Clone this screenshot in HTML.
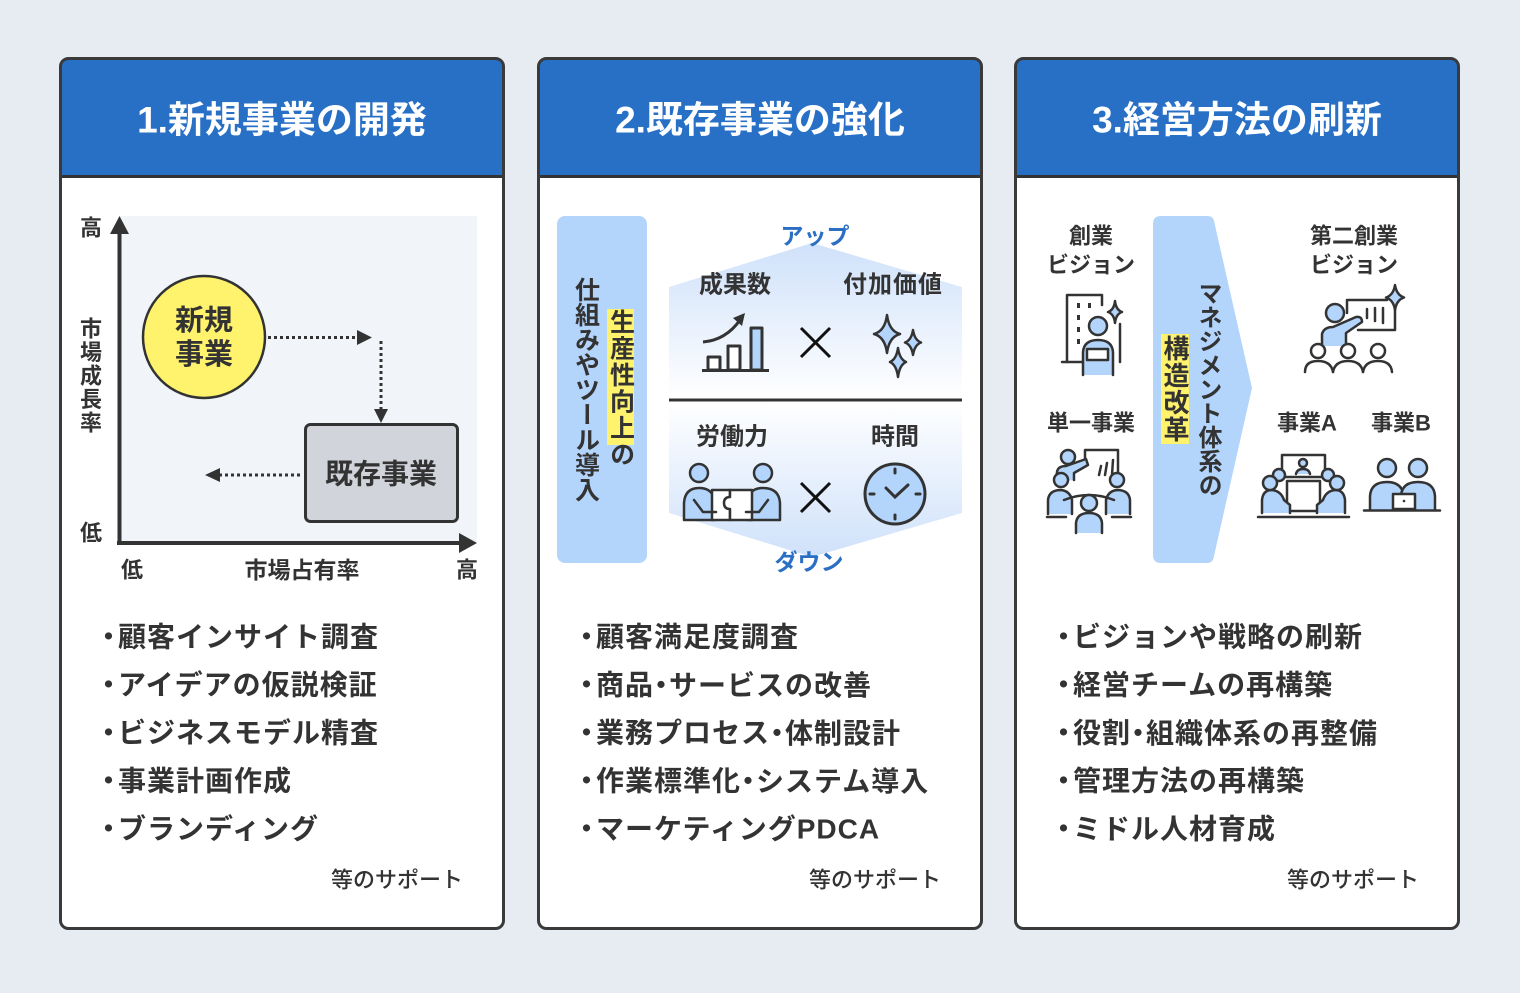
<!DOCTYPE html>
<html><head><meta charset="utf-8">
<style>
html,body{margin:0;padding:0;}
body{width:1520px;height:993px;background:#e7ecf3;position:relative;overflow:hidden;font-family:"Liberation Sans","Noto Sans CJK JP",sans-serif;}
svg{position:absolute;left:0;top:0;}
svg text{font-family:"Liberation Sans","Noto Sans CJK JP",sans-serif;font-weight:bold;fill:#333;dominant-baseline:central;}
.li{font-size:28px;letter-spacing:1px;}
.v{position:absolute;writing-mode:vertical-rl;font-family:"Liberation Sans","Noto Sans CJK JP",sans-serif;font-weight:bold;color:#333;white-space:nowrap;}
</style></head>
<body>
<svg width="1520" height="993" viewBox="0 0 1520 993">
<defs>
<linearGradient id="gu" x1="0" y1="0" x2="0" y2="1"><stop offset="0" stop-color="#cfe1fa"/><stop offset="1" stop-color="#ffffff"/></linearGradient>
<linearGradient id="gd" x1="0" y1="0" x2="0" y2="1"><stop offset="0" stop-color="#ffffff"/><stop offset="1" stop-color="#cfe1fa"/></linearGradient>
</defs>

<!-- Panels -->
<g>
<rect x="60.5" y="58.5" width="443" height="870" rx="8" fill="#fff"/>
<path d="M60.5 176 V66.5 Q60.5 58.5 68.5 58.5 H495.5 Q503.5 58.5 503.5 66.5 V176 Z" fill="#2870c6"/>
<line x1="60" y1="176.5" x2="504" y2="176.5" stroke="#333" stroke-width="3"/>
<rect x="60.5" y="58.5" width="443" height="870" rx="8" fill="none" stroke="#3a3a3a" stroke-width="3"/>

<rect x="538.5" y="58.5" width="443" height="870" rx="8" fill="#fff"/>
<path d="M538.5 176 V66.5 Q538.5 58.5 546.5 58.5 H973.5 Q981.5 58.5 981.5 66.5 V176 Z" fill="#2870c6"/>
<line x1="538" y1="176.5" x2="982" y2="176.5" stroke="#333" stroke-width="3"/>
<rect x="538.5" y="58.5" width="443" height="870" rx="8" fill="none" stroke="#3a3a3a" stroke-width="3"/>

<rect x="1015.5" y="58.5" width="443" height="870" rx="8" fill="#fff"/>
<path d="M1015.5 176 V66.5 Q1015.5 58.5 1023.5 58.5 H1450.5 Q1458.5 58.5 1458.5 66.5 V176 Z" fill="#2870c6"/>
<line x1="1015" y1="176.5" x2="1459" y2="176.5" stroke="#333" stroke-width="3"/>
<rect x="1015.5" y="58.5" width="443" height="870" rx="8" fill="none" stroke="#3a3a3a" stroke-width="3"/>
</g>

<!-- Headers -->
<text x="282" y="120" text-anchor="middle" style="fill:#fff;font-size:37px">1.新規事業の開発</text>
<text x="760" y="120" text-anchor="middle" style="fill:#fff;font-size:37px">2.既存事業の強化</text>
<text x="1237" y="120" text-anchor="middle" style="fill:#fff;font-size:37px">3.経営方法の刷新</text>

<!-- ===== Panel 1 chart ===== -->
<rect x="119" y="216" width="358" height="327" fill="#f1f5f9"/>
<line x1="119.5" y1="230" x2="119.5" y2="545" stroke="#333" stroke-width="4"/>
<polygon points="110,234 119.5,216 129,234" fill="#333"/>
<line x1="117" y1="543" x2="462" y2="543" stroke="#333" stroke-width="4"/>
<polygon points="459,533 477,543 459,553" fill="#333"/>

<circle cx="204" cy="337" r="61" fill="#fff36e" stroke="#333" stroke-width="2.5"/>
<text x="204" y="321" text-anchor="middle" style="font-size:29px">新規</text>
<text x="204" y="355" text-anchor="middle" style="font-size:29px">事業</text>

<line x1="268" y1="337.5" x2="358" y2="337.5" stroke="#333" stroke-width="3" stroke-dasharray="3 3"/>
<polygon points="357,330 372,337.5 357,345" fill="#333"/>
<line x1="381" y1="341" x2="381" y2="410" stroke="#333" stroke-width="3" stroke-dasharray="3 3"/>
<polygon points="374,409 381,423 388,409" fill="#333"/>

<rect x="305.5" y="424.5" width="152" height="97" rx="5" fill="#d1d5db" stroke="#333" stroke-width="3"/>
<text x="381" y="474" text-anchor="middle" style="font-size:28px">既存事業</text>

<line x1="300" y1="475" x2="219" y2="475" stroke="#333" stroke-width="3" stroke-dasharray="3 3"/>
<polygon points="220,468 205,475 220,482" fill="#333"/>

<g>
<text x="91" y="228" text-anchor="middle" style="font-size:22px">高</text>
<text x="91" y="329" text-anchor="middle" style="font-size:22px">市</text>
<text x="91" y="352.5" text-anchor="middle" style="font-size:22px">場</text>
<text x="91" y="376" text-anchor="middle" style="font-size:22px">成</text>
<text x="91" y="399.5" text-anchor="middle" style="font-size:22px">長</text>
<text x="91" y="423" text-anchor="middle" style="font-size:22px">率</text>
<text x="91" y="533" text-anchor="middle" style="font-size:22px">低</text>
<text x="132" y="570" text-anchor="middle" style="font-size:22px">低</text>
<text x="302" y="570" text-anchor="middle" style="font-size:23px">市場占有率</text>
<text x="467" y="570" text-anchor="middle" style="font-size:22px">高</text>
</g>

<!-- ===== Panel 2 diagram ===== -->
<rect x="557" y="216" width="90" height="347" rx="8" fill="#b3d4fb"/>
<rect x="607" y="309" width="27" height="136" fill="#fff36e"/>

<polygon points="669,287 812,243 962,287 962,399 669,399" fill="url(#gu)"/>
<polygon points="669,401 962,401 962,513 812,557 669,513" fill="url(#gd)"/>
<line x1="669" y1="400" x2="962" y2="400" stroke="#333" stroke-width="3"/>

<text x="815" y="236" text-anchor="middle" style="font-size:23px;fill:#2a6fc4">アップ</text>
<text x="809" y="562" text-anchor="middle" style="font-size:23px;fill:#2a6fc4">ダウン</text>
<text x="735" y="285" text-anchor="middle" style="font-size:24px">成果数</text>
<text x="893" y="285" text-anchor="middle" style="font-size:24px;letter-spacing:1px">付加価値</text>
<text x="732" y="437" text-anchor="middle" style="font-size:24px">労働力</text>
<text x="895" y="437" text-anchor="middle" style="font-size:24px">時間</text>

<!-- bar chart icon -->
<g stroke="#333" stroke-width="3" fill="#fff" stroke-linejoin="round">
<rect x="708" y="357" width="12" height="13"/>
<rect x="728" y="346" width="12" height="24"/>
<rect x="751" y="328" width="11" height="42" fill="#b3d4fb"/>
<line x1="702" y1="370.5" x2="769" y2="370.5"/>
<path d="M703 342 Q726 340 740 320" fill="none"/>
</g>
<polygon points="733,318 745,313 742,326" fill="#333"/>

<!-- x marks -->
<g stroke="#111" stroke-width="3">
<line x1="801" y1="328" x2="830" y2="357"/><line x1="830" y1="328" x2="801" y2="357"/>
<line x1="801" y1="483" x2="830" y2="512"/><line x1="830" y1="483" x2="801" y2="512"/>
</g>

<!-- sparkles -->
<g fill="#b3d4fb" stroke="#333" stroke-width="2.5" stroke-linejoin="round">
<path d="M887 315 Q889 331 900 334 Q889 337 887 353 Q885 337 874 334 Q885 331 887 315 Z"/>
<path d="M913 330 Q914.5 340 921 342.5 Q914.5 345 913 355 Q911.5 345 905 342.5 Q911.5 340 913 330 Z"/>
<path d="M898 348 Q899.5 359 906 362 Q899.5 365 898 377 Q896.5 365 890 362 Q896.5 359 898 348 Z"/>
</g>

<!-- people with puzzle -->
<g stroke="#333" stroke-width="2.5" stroke-linejoin="round" stroke-linecap="round">
<path d="M684 520 L684 503 Q685 488 699 488 Q711 488 714 498 L714 520 Z" fill="#b3d4fb"/>
<path d="M780 520 L780 503 Q779 488 763 488 Q751 488 748 498 L748 520 Z" fill="#b3d4fb"/>
<circle cx="699" cy="473" r="9" fill="#b3d4fb"/>
<circle cx="763" cy="473" r="9" fill="#b3d4fb"/>
<path d="M712 490 H730 V497 Q736 497 736 503 Q736 509 730 509 V520 H712 Z" fill="#fff"/>
<path d="M730 490 H752 V520 H730 V509 Q724 509 724 503 Q724 497 730 497 Z" fill="#fff"/>
<path d="M694 500 L703 512 L716 512" fill="none"/>
<path d="M768 500 L759 512 L746 512" fill="none"/>
</g>

<!-- clock -->
<g stroke="#333" stroke-width="3" stroke-linecap="round">
<circle cx="895" cy="494" r="30" fill="#b3d4fb"/>
<line x1="895" y1="469" x2="895" y2="473"/>
<line x1="895" y1="515" x2="895" y2="519"/>
<line x1="870" y1="494" x2="874" y2="494"/>
<line x1="916" y1="494" x2="920" y2="494"/>
<path d="M886 488 L895 497 L908 485" fill="none"/>
</g>

<!-- ===== Panel 3 diagram ===== -->
<path d="M1161 216 L1208 216 Q1213 216 1214 221 L1252 388 L1214 556 Q1213 563 1207 563 L1161 563 Q1153 563 1153 555 L1153 224 Q1153 216 1161 216 Z" fill="#b3d4fb"/>
<rect x="1161" y="334" width="28" height="110" fill="#fff36e"/>

<text x="1091" y="236" text-anchor="middle" style="font-size:22px">創業</text>
<text x="1091" y="265" text-anchor="middle" style="font-size:22px">ビジョン</text>
<text x="1091" y="423" text-anchor="middle" style="font-size:22px">単一事業</text>
<text x="1354" y="236" text-anchor="middle" style="font-size:22px">第二創業</text>
<text x="1354" y="265" text-anchor="middle" style="font-size:22px">ビジョン</text>
<text x="1307" y="423" text-anchor="middle" style="font-size:22px">事業A</text>
<text x="1401" y="423" text-anchor="middle" style="font-size:22px">事業B</text>

<!-- icon 1: 創業ビジョン -->
<g stroke="#333" stroke-width="2.5" stroke-linejoin="round" stroke-linecap="round" fill="none">
<path d="M1067 362 L1067 295 L1102 295 L1102 305"/>
<line x1="1062" y1="362" x2="1084" y2="362"/>
<line x1="1120" y1="324" x2="1120" y2="362"/>
<path d="M1083 375 L1083 352 Q1084 340 1098 340 Q1112 340 1113 352 L1113 375" fill="#b3d4fb"/>
<circle cx="1098" cy="326" r="9" fill="#b3d4fb"/>
<rect x="1087" y="349" width="21" height="11" fill="#fff"/>
<path d="M1115 301 Q1116 310 1122 312 Q1116 314 1115 323 Q1114 314 1108 312 Q1114 310 1115 301 Z" fill="#b3d4fb"/>
</g>
<g fill="#333">
<rect x="1077" y="303" width="3" height="5"/><rect x="1088" y="303" width="3" height="5"/>
<rect x="1077" y="315" width="3" height="5"/><rect x="1077" y="327" width="3" height="5"/>
<rect x="1077" y="339" width="3" height="5"/>
</g>

<!-- icon 2: 単一事業 -->
<g stroke="#333" stroke-width="2.5" stroke-linejoin="round" stroke-linecap="round" fill="none">
<path d="M1085 458 L1085 450 L1118 450 L1118 476"/>
<line x1="1101" y1="466" x2="1099" y2="475"/>
<line x1="1107" y1="463" x2="1105" y2="475"/>
<line x1="1113" y1="460" x2="1112" y2="475"/>
<path d="M1056 482 L1057 472 Q1058 466 1066 466 L1086 459 L1088 465 L1074 473 L1074 480" fill="#b3d4fb"/>
<circle cx="1068" cy="457" r="7" fill="#b3d4fb"/>
<path d="M1048 514 L1048 500 Q1049 490 1061 490 Q1070 491 1072 500 L1072 514" fill="#b3d4fb"/>
<path d="M1130 514 L1130 500 Q1129 490 1117 490 Q1108 491 1106 500 L1106 514" fill="#b3d4fb"/>
<circle cx="1061" cy="480" r="7" fill="#b3d4fb"/>
<circle cx="1117" cy="480" r="7" fill="#b3d4fb"/>
<path d="M1064 500 Q1089 490 1114 500"/>
<path d="M1076 533 L1076 523 Q1077 513 1089 513 Q1101 513 1102 523 L1102 533" fill="#b3d4fb"/>
<circle cx="1089" cy="503" r="8" fill="#b3d4fb"/>
<line x1="1047" y1="517" x2="1066" y2="517"/>
<line x1="1112" y1="517" x2="1131" y2="517"/>
</g>

<!-- icon 3: 第二創業 -->
<g stroke="#333" stroke-width="2.5" stroke-linejoin="round" stroke-linecap="round" fill="none">
<path d="M1347 313 L1347 300 L1387 300"/>
<path d="M1395 307 L1395 330 L1358 330"/>
<line x1="1367" y1="309" x2="1367" y2="318"/>
<line x1="1375" y1="308" x2="1375" y2="321"/>
<line x1="1383" y1="308" x2="1383" y2="323"/>
<path d="M1395 285 Q1396.5 295 1404 297.5 Q1396.5 300 1395 310 Q1393.5 300 1386 297.5 Q1393.5 295 1395 285 Z" fill="#b3d4fb"/>
<path d="M1322 346 L1322 334 Q1324 327 1333 327 L1356 317 Q1362 316 1362 322 L1346 333 L1346 346" fill="#b3d4fb"/>
<circle cx="1335" cy="313" r="9" fill="#b3d4fb"/>
<circle cx="1318" cy="351" r="7" fill="#fff"/>
<circle cx="1348" cy="351" r="7" fill="#fff"/>
<circle cx="1378" cy="351" r="7" fill="#fff"/>
<path d="M1305 372 Q1305 361 1318 361 Q1331 361 1333 372"/>
<path d="M1333 372 Q1335 361 1348 361 Q1361 361 1363 372"/>
<path d="M1363 372 Q1365 361 1378 361 Q1391 361 1392 372"/>
</g>

<!-- icon 4: 事業A -->
<g stroke="#333" stroke-width="2.5" stroke-linejoin="round" stroke-linecap="round" fill="none">
<rect x="1282" y="455" width="43" height="22" fill="#fff"/>
<circle cx="1303" cy="463" r="4" fill="#b3d4fb"/>
<path d="M1296 474 Q1297 469 1303 469 Q1309 469 1310 474" fill="#b3d4fb"/>
<rect x="1287" y="481" width="33" height="30" fill="#fff"/>
<path d="M1262 513 L1262 500 Q1263 490 1272 490 Q1281 491 1284 500 L1290 505 L1290 513" fill="#b3d4fb"/>
<path d="M1345 513 L1345 500 Q1344 490 1335 490 Q1326 491 1323 500 L1317 505 L1317 513" fill="#b3d4fb"/>
<circle cx="1279" cy="475" r="6" fill="#b3d4fb"/>
<circle cx="1328" cy="475" r="6" fill="#b3d4fb"/>
<circle cx="1270" cy="483" r="7" fill="#b3d4fb"/>
<circle cx="1337" cy="483" r="7" fill="#b3d4fb"/>
<line x1="1258" y1="517" x2="1349" y2="517"/>
</g>

<!-- icon 5: 事業B -->
<g stroke="#333" stroke-width="2.5" stroke-linejoin="round" stroke-linecap="round" fill="none">
<path d="M1370 510 L1370 496 Q1371 482 1387 482 Q1402 482 1404 496 L1404 510" fill="#b3d4fb"/>
<path d="M1401 510 L1401 496 Q1402 482 1418 482 Q1434 482 1435 496 L1435 510" fill="#b3d4fb"/>
<circle cx="1387" cy="468" r="9" fill="#b3d4fb"/>
<circle cx="1418" cy="468" r="9" fill="#b3d4fb"/>
<rect x="1393" y="494" width="22" height="15" fill="#fff"/>
<line x1="1364" y1="510.5" x2="1440" y2="510.5"/>
</g>
<circle cx="1404" cy="501" r="1.3" fill="#333"/>

<!-- ===== Lists ===== -->
<g>
<text x="109" y="637" text-anchor="middle" class="li">・</text>
<text x="118" y="637" class="li">顧客インサイト調査</text>
<text x="109" y="685" text-anchor="middle" class="li">・</text>
<text x="118" y="685" class="li">アイデアの仮説検証</text>
<text x="109" y="733" text-anchor="middle" class="li">・</text>
<text x="118" y="733" class="li">ビジネスモデル精査</text>
<text x="109" y="781" text-anchor="middle" class="li">・</text>
<text x="118" y="781" class="li">事業計画作成</text>
<text x="109" y="829" text-anchor="middle" class="li">・</text>
<text x="118" y="829" class="li">ブランディング</text>

<text x="587" y="637" text-anchor="middle" class="li">・</text>
<text x="596" y="637" class="li">顧客満足度調査</text>
<text x="587" y="685" text-anchor="middle" class="li">・</text>
<text x="596" y="685" class="li">商品<tspan dx="-7">・</tspan><tspan dx="-7">サービスの改善</tspan></text>
<text x="587" y="733" text-anchor="middle" class="li">・</text>
<text x="596" y="733" class="li">業務プロセス<tspan dx="-7">・</tspan><tspan dx="-7">体制設計</tspan></text>
<text x="587" y="781" text-anchor="middle" class="li">・</text>
<text x="596" y="781" class="li">作業標準化<tspan dx="-7">・</tspan><tspan dx="-7">システム導入</tspan></text>
<text x="587" y="829" text-anchor="middle" class="li">・</text>
<text x="596" y="829" class="li">マーケティングPDCA</text>

<text x="1064" y="637" text-anchor="middle" class="li">・</text>
<text x="1073" y="637" class="li">ビジョンや戦略の刷新</text>
<text x="1064" y="685" text-anchor="middle" class="li">・</text>
<text x="1073" y="685" class="li">経営チームの再構築</text>
<text x="1064" y="733" text-anchor="middle" class="li">・</text>
<text x="1073" y="733" class="li">役割<tspan dx="-7">・</tspan><tspan dx="-7">組織体系の再整備</tspan></text>
<text x="1064" y="781" text-anchor="middle" class="li">・</text>
<text x="1073" y="781" class="li">管理方法の再構築</text>
<text x="1064" y="829" text-anchor="middle" class="li">・</text>
<text x="1073" y="829" class="li">ミドル人材育成</text>
</g>

<text x="463" y="880" text-anchor="end" style="font-size:22px;font-weight:500">等のサポート</text>
<text x="941" y="880" text-anchor="end" style="font-size:22px;font-weight:500">等のサポート</text>
<text x="1419" y="880" text-anchor="end" style="font-size:22px;font-weight:500">等のサポート</text>
</svg>

<div class="v" style="left:572.5px;top:277px;font-size:25px;line-height:25px;">仕組みやツール導入</div>
<div class="v" style="left:607.5px;top:309px;font-size:25px;line-height:25px;letter-spacing:1.5px;">生産性向上の</div>
<div class="v" style="left:1162px;top:335px;font-size:26px;line-height:26px;letter-spacing:1px;">構造改革</div>
<div class="v" style="left:1195px;top:281px;font-size:24px;line-height:24px;">マネジメント体系の</div>
</body></html>
